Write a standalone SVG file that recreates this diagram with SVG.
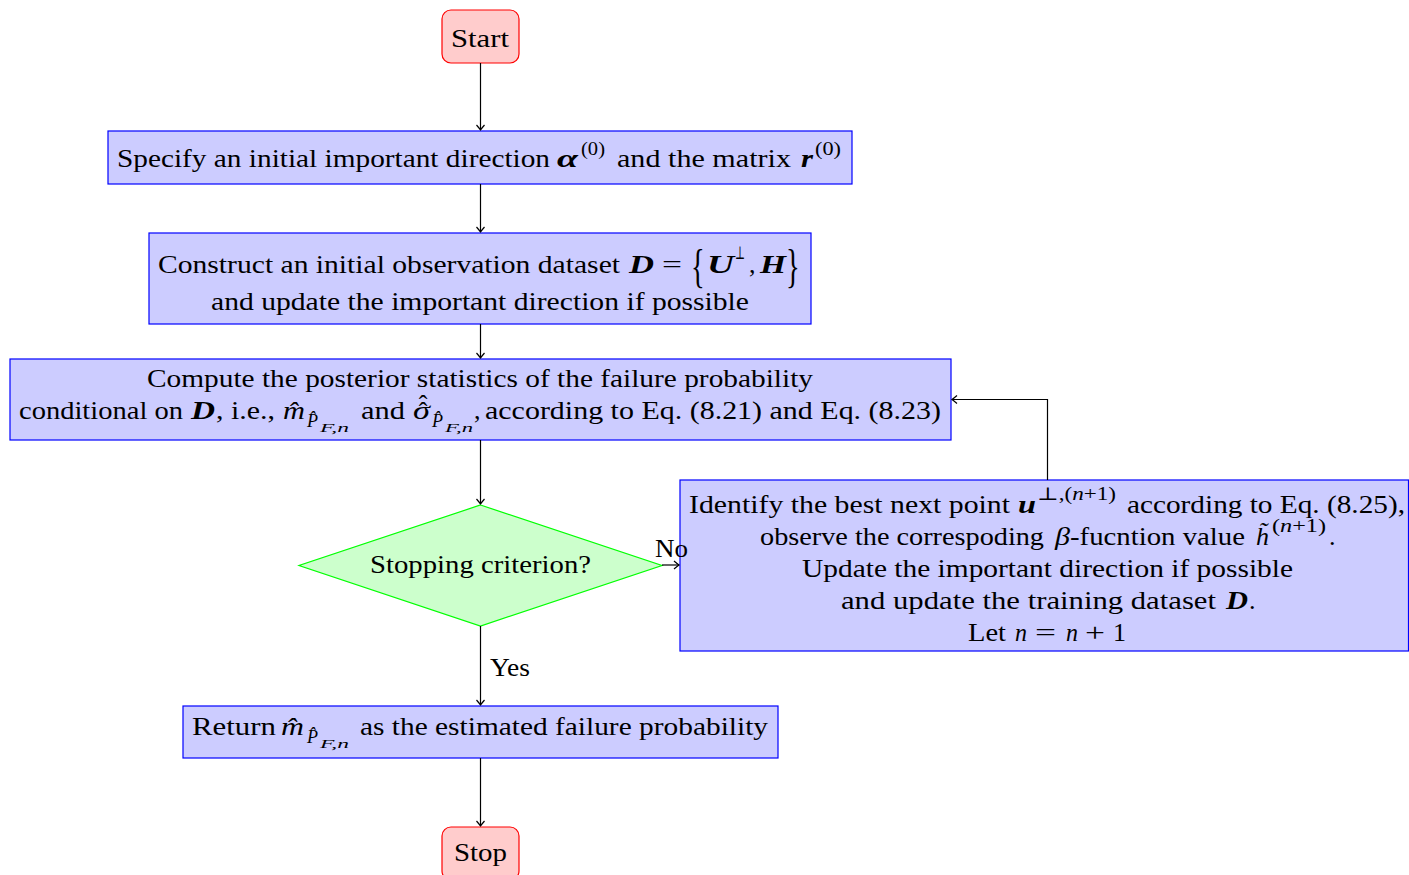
<svg xmlns="http://www.w3.org/2000/svg" width="1409" height="875" viewBox="0 0 1409 875">
  <style>
    text { font-family: "Liberation Serif", "DejaVu Serif", serif; font-size: 26px; fill: #000; }
    .i { font-style: italic; }
    .b { font-style: italic; font-weight: bold; }
    .sup { font-size: 18px; }
    .sub2 { font-size: 13px; font-style: italic; }
    .acc { text-anchor: middle; }
    .term { fill: #ffcccc; stroke: #ff0000; stroke-width: 1.2; }
    .proc { fill: #ccccff; stroke: #0000ff; stroke-width: 1.2; }
    .dec { fill: #ccffcc; stroke: #00ff00; stroke-width: 1.2; }
    .edge { fill: none; stroke: #000; stroke-width: 1.2; }
  </style>
  <defs>
    <marker id="arrow" viewBox="-6 -5 8 10" refX="0" refY="0" markerWidth="8" markerHeight="10" markerUnits="userSpaceOnUse" orient="auto">
      <path d="M-5,-4 Q-1.5,-1 0,0 Q-1.5,1 -5,4" fill="none" stroke="#000" stroke-width="1.2"/>
    </marker>
  </defs>

  <rect width="1409" height="875" fill="#fff"/>

  <g id="start">
    <rect class="term" x="442" y="10" width="77" height="53" rx="9"/>
    <text x="451" y="47" textLength="58" lengthAdjust="spacingAndGlyphs">Start</text>
  </g>

  <g id="init-direction">
    <rect class="proc" x="108" y="131" width="744" height="53"/>
    <text x="117" y="167" textLength="433" lengthAdjust="spacingAndGlyphs">Specify an initial important direction</text>
    <text class="b" x="557" y="167" textLength="21" lengthAdjust="spacingAndGlyphs">α</text>
    <text class="sup" x="581" y="155" textLength="24" lengthAdjust="spacingAndGlyphs">(0)</text>
    <text x="617" y="167" textLength="174" lengthAdjust="spacingAndGlyphs">and the matrix</text>
    <text class="b" x="801" y="167" textLength="12" lengthAdjust="spacingAndGlyphs">r</text>
    <text class="sup" x="815" y="155" textLength="26" lengthAdjust="spacingAndGlyphs">(0)</text>
  </g>

  <g id="init-dataset">
    <rect class="proc" x="149" y="233" width="662" height="91"/>
    <text x="158" y="273" textLength="462" lengthAdjust="spacingAndGlyphs">Construct an initial observation dataset</text>
    <text class="b" x="629" y="273" textLength="25" lengthAdjust="spacingAndGlyphs">D</text>
    <text x="662" y="273" textLength="20" lengthAdjust="spacingAndGlyphs">=</text>
    <text transform="translate(691,282) scale(0.62,1)" style="font-size:46px">{</text>
    <text class="b" x="707" y="273" textLength="27" lengthAdjust="spacingAndGlyphs">U</text>
    <text class="sup" x="735" y="259" textLength="10" lengthAdjust="spacingAndGlyphs">⊥</text>
    <text x="749" y="273">,</text>
    <text class="b" x="760" y="273" textLength="26" lengthAdjust="spacingAndGlyphs">H</text>
    <text transform="translate(786,282) scale(0.62,1)" style="font-size:46px">}</text>
    <text x="211" y="310" textLength="538" lengthAdjust="spacingAndGlyphs">and update the important direction if possible</text>
  </g>

  <g id="posterior">
    <rect class="proc" x="10" y="359" width="941" height="81"/>
    <text x="147" y="387" textLength="666" lengthAdjust="spacingAndGlyphs">Compute the posterior statistics of the failure probability</text>
    <text x="19" y="419" textLength="164" lengthAdjust="spacingAndGlyphs">conditional on</text>
    <text class="b" x="191" y="419" textLength="24" lengthAdjust="spacingAndGlyphs">D</text>
    <text x="216" y="419" textLength="59" lengthAdjust="spacingAndGlyphs">, i.e.,</text>
    <text class="i" x="283" y="419" textLength="22" lengthAdjust="spacingAndGlyphs">m̂</text>
    <text class="sup i" x="307" y="427">P̂</text>
    <text class="sub2" x="320" y="432" textLength="29" lengthAdjust="spacingAndGlyphs">F,n</text>
    <text x="361" y="419" textLength="44" lengthAdjust="spacingAndGlyphs">and</text>
    <text class="i" x="413" y="419" textLength="17" lengthAdjust="spacingAndGlyphs">σ</text>
    <text class="acc" x="423" y="420">ˆ</text>
    <text class="acc" x="423" y="413">ˆ</text>
    <text class="sup i" x="432" y="427">P̂</text>
    <text class="sub2" x="445" y="432" textLength="28" lengthAdjust="spacingAndGlyphs">F,n</text>
    <text x="474" y="419">,</text>
    <text x="485" y="419" textLength="456" lengthAdjust="spacingAndGlyphs">according to Eq. (8.21) and Eq. (8.23)</text>
  </g>

  <g id="stopping">
    <polygon class="dec" points="480.5,505 662,565.5 480.5,626 299,565.5"/>
    <text x="370" y="573" textLength="221" lengthAdjust="spacingAndGlyphs">Stopping criterion?</text>
  </g>

  <g id="next-point">
    <rect class="proc" x="680" y="480" width="728.5" height="171"/>
    <text x="689" y="513" textLength="321" lengthAdjust="spacingAndGlyphs">Identify the best next point</text>
    <text class="b" x="1018" y="513" textLength="18" lengthAdjust="spacingAndGlyphs">u</text>
    <text class="sup" x="1037" y="500" textLength="79" lengthAdjust="spacingAndGlyphs">⊥,(<tspan class="i">n</tspan>+1)</text>
    <text x="1127" y="513" textLength="278" lengthAdjust="spacingAndGlyphs">according to Eq. (8.25),</text>
    <text x="760" y="545" textLength="284" lengthAdjust="spacingAndGlyphs">observe the correspoding</text>
    <text class="i" x="1055" y="545" textLength="15" lengthAdjust="spacingAndGlyphs">β</text>
    <text x="1070" y="545" textLength="175" lengthAdjust="spacingAndGlyphs">-fucntion value</text>
    <text class="i" x="1256" y="545" textLength="13" lengthAdjust="spacingAndGlyphs">h̃</text>
    <text class="sup" x="1272" y="532" textLength="54" lengthAdjust="spacingAndGlyphs">(<tspan class="i">n</tspan>+1)</text>
    <text x="1329" y="545">.</text>
    <text x="802" y="577" textLength="491" lengthAdjust="spacingAndGlyphs">Update the important direction if possible</text>
    <text x="841" y="609" textLength="375" lengthAdjust="spacingAndGlyphs">and update the training dataset</text>
    <text class="b" x="1226" y="609" textLength="22" lengthAdjust="spacingAndGlyphs">D</text>
    <text x="1249" y="609">.</text>
    <text x="968" y="641" textLength="38" lengthAdjust="spacingAndGlyphs">Let</text>
    <text class="i" x="1015" y="641" textLength="12" lengthAdjust="spacingAndGlyphs">n</text>
    <text x="1035" y="641" textLength="21" lengthAdjust="spacingAndGlyphs">=</text>
    <text class="i" x="1066" y="641" textLength="12" lengthAdjust="spacingAndGlyphs">n</text>
    <text x="1085" y="641" textLength="20" lengthAdjust="spacingAndGlyphs">+</text>
    <text x="1113" y="641" textLength="13" lengthAdjust="spacingAndGlyphs">1</text>
  </g>

  <g id="return">
    <rect class="proc" x="183" y="706" width="595" height="52"/>
    <text x="192" y="735" textLength="84" lengthAdjust="spacingAndGlyphs">Return</text>
    <text class="i" x="281" y="735" textLength="23" lengthAdjust="spacingAndGlyphs">m̂</text>
    <text class="sup i" x="307" y="743">P̂</text>
    <text class="sub2" x="320" y="748" textLength="29" lengthAdjust="spacingAndGlyphs">F,n</text>
    <text x="360" y="735" textLength="408" lengthAdjust="spacingAndGlyphs">as the estimated failure probability</text>
  </g>

  <g id="stop">
    <rect class="term" x="442" y="827" width="77" height="53" rx="9"/>
    <text x="454" y="861" textLength="53" lengthAdjust="spacingAndGlyphs">Stop</text>
  </g>

  <!-- connectors, drawn last so the branch labels sit on top of the boxes -->
  <g id="connectors">
    <path class="edge" d="M480.5,63 V130" marker-end="url(#arrow)"/>
    <path class="edge" d="M480.5,184 V232" marker-end="url(#arrow)"/>
    <path class="edge" d="M480.5,324 V358" marker-end="url(#arrow)"/>
    <path class="edge" d="M480.5,440 V504" marker-end="url(#arrow)"/>
    <path class="edge" d="M662,565 H679" marker-end="url(#arrow)"/>
    <path class="edge" d="M480.5,626 V705" marker-end="url(#arrow)"/>
    <path class="edge" d="M480.5,758 V826" marker-end="url(#arrow)"/>
    <path class="edge" d="M1047.5,480 V399.5 H952" marker-end="url(#arrow)"/>
    <text x="655" y="557" textLength="33" lengthAdjust="spacingAndGlyphs">No</text>
    <text x="490" y="676" textLength="40" lengthAdjust="spacingAndGlyphs">Yes</text>
  </g>
</svg>
